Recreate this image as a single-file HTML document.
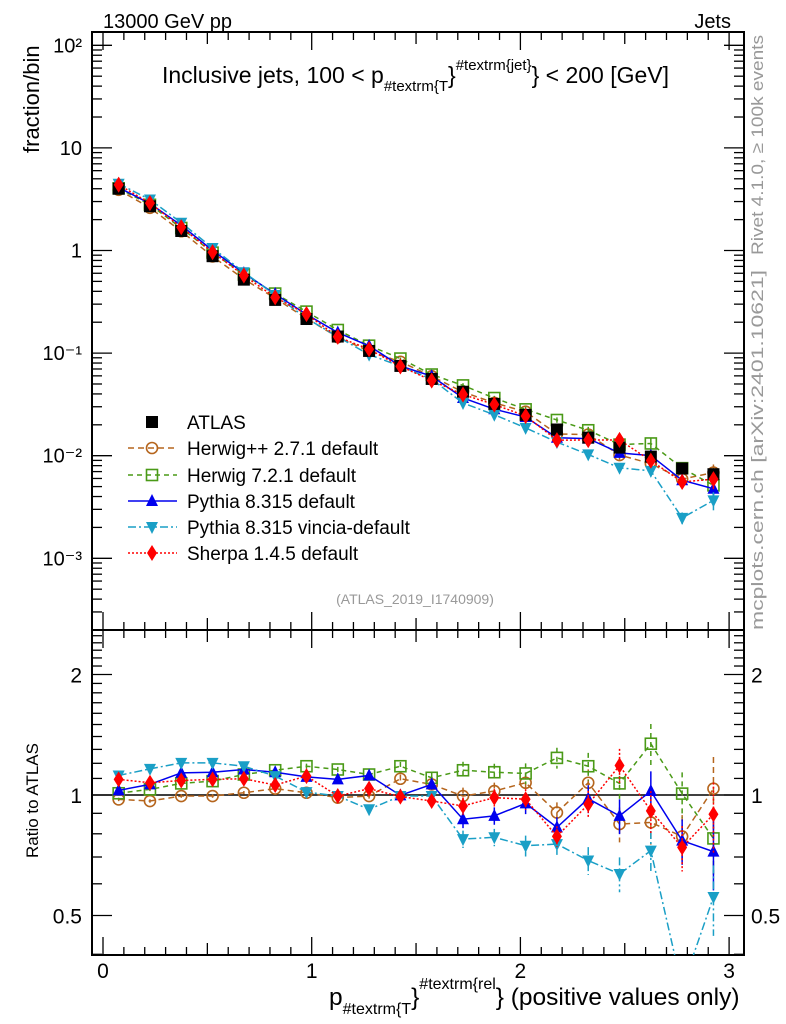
<!DOCTYPE html>
<html><head><meta charset="utf-8"><style>
html,body{margin:0;padding:0;background:#fff;}
svg{display:block;font-family:"Liberation Sans",sans-serif;}
</style></head><body>
<svg id="chart" width="786" height="1024" viewBox="0 0 786 1024" xmlns="http://www.w3.org/2000/svg">
<g id="main"></g>
<g id="ratio"></g>
<text x="103" y="28" font-size="20">13000 GeV pp</text>
<text x="731" y="28" font-size="20" text-anchor="end">Jets</text>
<text x="162" y="83" font-size="23">Inclusive jets, 100 &lt; p<tspan font-size="15" dy="8">#textrm{T</tspan><tspan dy="-8">}</tspan><tspan font-size="15" dy="-13">#textrm{jet}</tspan><tspan dy="13">} &lt; 200 [GeV]</tspan></text>
<text x="415" y="604" font-size="14" fill="#999" text-anchor="middle">(ATLAS_2019_I1740909)</text>
<text transform="translate(763,255) rotate(-90)" font-size="17" fill="#999" textLength="220" lengthAdjust="spacingAndGlyphs">Rivet 4.1.0, ≥ 100k events</text>
<text transform="translate(763,630) rotate(-90)" font-size="17" fill="#999" textLength="360" lengthAdjust="spacingAndGlyphs">mcplots.cern.ch [arXiv:2401.10621]</text>
<text transform="translate(39,153) rotate(-90)" font-size="22">fraction/bin</text>
<text transform="translate(38,858) rotate(-90)" font-size="17">Ratio to ATLAS</text>
<text x="329" y="1005" font-size="24.5">p<tspan font-size="16" dy="9">#textrm{T</tspan><tspan dy="-9">}</tspan><tspan font-size="16" dy="-16">#textrm{rel</tspan><tspan dy="16">} (positive values only)</tspan></text>
</svg>
<script>
const xCenters=[0.075,0.225,0.375,0.525,0.675,0.825,0.975,1.125,1.275,1.425,1.575,1.725,1.875,2.025,2.175,2.325,2.475,2.625,2.775,2.925];
const atlas=[4.0,2.7,1.55,0.88,0.52,0.33,0.215,0.145,0.105,0.075,0.056,0.042,0.032,0.025,0.018,0.015,0.012,0.0098,0.0075,0.0066];
const herwigpp=[0.975,0.966,0.994,0.994,1.013,1.037,1.013,0.985,0.994,1.098,1.063,0.994,1.023,1.073,0.904,1.073,0.846,0.854,0.788,1.037];
const herwig7=[1.01,1.033,1.069,1.083,1.125,1.153,1.18,1.158,1.125,1.18,1.104,1.153,1.14,1.132,1.238,1.18,1.069,1.343,1.008,0.779];
const pythia=[1.027,1.063,1.136,1.14,1.158,1.14,1.11,1.094,1.119,0.998,1.063,0.87,0.887,0.953,0.83,0.979,0.887,1.023,0.769,0.722];
const vincia=[1.119,1.162,1.203,1.203,1.18,1.115,1.017,0.994,0.921,0.994,0.994,0.776,0.784,0.747,0.754,0.686,0.635,0.726,0.33,0.556];
const sherpa=[1.094,1.073,1.087,1.094,1.098,1.059,1.115,0.994,1.037,0.991,0.966,0.939,0.985,0.976,0.788,0.948,1.185,0.913,0.74,0.895];
const relErr=[0.01,0.01,0.01,0.01,0.01,0.01,0.015,0.015,0.02,0.025,0.03,0.05,0.05,0.06,0.06,0.08,0.1,0.12,0.13,0.2];
const legendLabels=["ATLAS","Herwig++ 2.7.1 default","Herwig 7.2.1 default","Pythia 8.315 default","Pythia 8.315 vincia-default","Sherpa 1.4.5 default"];
const mainTicks=["10²","10","1","10⁻¹","10⁻²","10⁻³"];
const ratioTicks=[2,1,0.5];

const NS="http://www.w3.org/2000/svg";
const L=92,R=744,T=32,M=630,B=955;
const sx=v=>103+v*208.7;
const sy=v=>250.5-Math.log10(v)*102.6;
const ry=v=>795-Math.log2(v)*120.5;
function mk(p,tag,a){const e=document.createElementNS(NS,tag);for(const k in a)e.setAttribute(k,a[k]);p.appendChild(e);return e;}
const main=document.getElementById('main'),ratio=document.getElementById('ratio');
const series=[
 {name:'herwigpp',r:herwigpp,c:'#b5651d',dash:'6,4',m:'circle'},
 {name:'herwig7',r:herwig7,c:'#4a9a17',dash:'5,4',m:'square'},
 {name:'pythia',r:pythia,c:'#0000ee',dash:'',m:'up'},
 {name:'vincia',r:vincia,c:'#1a9fc6',dash:'8,3,2,3',m:'down'},
 {name:'sherpa',r:sherpa,c:'#ff0000',dash:'2,2',m:'diamond'}];
function marker(g,type,x,y,c){
 let e;
 if(type==='circle')e=mk(g,'circle',{cx:x,cy:y,r:5.5,fill:'none',stroke:c,'stroke-width':1.6});
 else if(type==='square')e=mk(g,'rect',{x:x-5.5,y:y-5.5,width:11,height:11,fill:'none',stroke:c,'stroke-width':1.6});
 else if(type==='up')e=mk(g,'polygon',{points:`${x},${y-7} ${x-6},${y+5} ${x+6},${y+5}`,fill:c});
 else if(type==='down')e=mk(g,'polygon',{points:`${x},${y+7} ${x-6},${y-5} ${x+6},${y-5}`,fill:c});
 else if(type==='diamond')e=mk(g,'polygon',{points:`${x},${y-8} ${x-5},${y} ${x},${y+8} ${x+5},${y}`,fill:c});
 else e=mk(g,'rect',{x:x-6,y:y-6,width:12,height:12,fill:c});
 return e;
}
const defs=mk(document.getElementById('chart'),'defs',{});
const c1=mk(defs,'clipPath',{id:'c1'});mk(c1,'rect',{x:L,y:T,width:R-L,height:M-T});
const c2=mk(defs,'clipPath',{id:'c2'});mk(c2,'rect',{x:L,y:M,width:R-L,height:B-M});
for(const [y0,y1,g] of [[T,M,main],[M,B,ratio]]){
 const f=mk(g,'rect',{x:L,y:y0,width:R-L,height:y1-y0,fill:'none',stroke:'#000','stroke-width':2});
 
 for(let i=0;i<=30;i++){const v=i/10;const x=sx(v);if(x>R)break;const len=i%10===0?18:(i%5===0?12:8);
  mk(g,'line',{x1:x,x2:x,y1:y1,y2:y1-len,stroke:'#000','stroke-width':1.3});
  mk(g,'line',{x1:x,x2:x,y1:y0,y2:y0+len,stroke:'#000','stroke-width':1.3});}
}
for(let d=-4;d<=2;d++){for(let k=1;k<10;k++){const v=k*Math.pow(10,d);const y=sy(v);if(y<T||y>M)continue;const len=k===1?20:10;
 mk(main,'line',{x1:L,x2:L+len,y1:y,y2:y,stroke:'#000','stroke-width':1.3});mk(main,'line',{x1:R,x2:R-len,y1:y,y2:y,stroke:'#000','stroke-width':1.3});}}
mainTicks.forEach((t,i)=>{const e=mk(main,'text',{x:82,y:sy(Math.pow(10,2-i))+7,'font-size':20,'text-anchor':'end'});e.textContent=t;
 });
for(let v=0.4;v<=2.6;v+=0.1){const vv=Math.round(v*10)/10;const y=ry(vv);if(y<M||y>B)continue;const len=(vv===0.5||vv===1||vv===2)?20:10;
 mk(ratio,'line',{x1:L,x2:L+len,y1:y,y2:y,stroke:'#000','stroke-width':1.3});mk(ratio,'line',{x1:R,x2:R-len,y1:y,y2:y,stroke:'#000','stroke-width':1.3});}
ratioTicks.forEach(t=>{const e=mk(ratio,'text',{x:82,y:ry(t)+8,'font-size':21,'text-anchor':'end'});e.textContent=t;
 
 const e2=mk(ratio,'text',{x:751,y:ry(t)+8,'font-size':21});e2.textContent=t;
 });
[0,1,2,3].forEach(t=>{const e=mk(ratio,'text',{x:sx(t),y:978,'font-size':21,'text-anchor':'middle'});e.textContent=t;
 });
mk(ratio,'line',{x1:L,x2:R,y1:ry(1),y2:ry(1),stroke:'#000','stroke-width':1.5});
const gm=mk(main,'g',{'clip-path':'url(#c1)'}),gr=mk(ratio,'g',{'clip-path':'url(#c2)'});
series.forEach(s=>{
 const g1=mk(gm,'g',{});
 const g2=mk(gr,'g',{});
 const pm=xCenters.map((x,i)=>sx(x)+','+sy(atlas[i]*s.r[i])).join(' ');
 const pr=xCenters.map((x,i)=>sx(x)+','+ry(s.r[i])).join(' ');
 mk(g1,'polyline',{points:pm,fill:'none',stroke:s.c,'stroke-width':1.5,'stroke-dasharray':s.dash});
 mk(g2,'polyline',{points:pr,fill:'none',stroke:s.c,'stroke-width':1.5,'stroke-dasharray':s.dash});
 xCenters.forEach((x,i)=>{const v=s.r[i],e=relErr[i];
  mk(g2,'line',{x1:sx(x),x2:sx(x),y1:ry(v*(1+e)),y2:ry(v*(1-e)),stroke:s.c,'stroke-width':1.5,'stroke-dasharray':s.dash});
  mk(g1,'line',{x1:sx(x),x2:sx(x),y1:sy(atlas[i]*v*(1+e)),y2:sy(atlas[i]*v*(1-e)),stroke:s.c,'stroke-width':1.5});
  const a=marker(g1,s.m,sx(x),sy(atlas[i]*v),s.c);
  const b=marker(g2,s.m,sx(x),ry(v),s.c);});
});
const ga=mk(gm,'g',{});
xCenters.forEach((x,i)=>{const p=marker(ga,'fsquare',sx(x),sy(atlas[i]),'#000');});
series.slice(4).forEach(s=>{xCenters.forEach((x,i)=>{const a=marker(gm,s.m,sx(x),sy(atlas[i]*s.r[i]),s.c);});});
const lg=mk(main,'g',{});
const ly=[422,448,475,501,527,553];
legendLabels.forEach((t,i)=>{const g=mk(lg,'g',{});
 if(i===0){marker(g,'fsquare',152,ly[i],'#000');}
 else{const s=series[i-1];mk(g,'line',{x1:128,x2:177,y1:ly[i],y2:ly[i],stroke:s.c,'stroke-width':1.5,'stroke-dasharray':s.dash});marker(g,s.m,152,ly[i],s.c);}
 const e=mk(g,'text',{x:187,y:ly[i]+7,'font-size':19});e.textContent=t;});
</script>
</body></html>
